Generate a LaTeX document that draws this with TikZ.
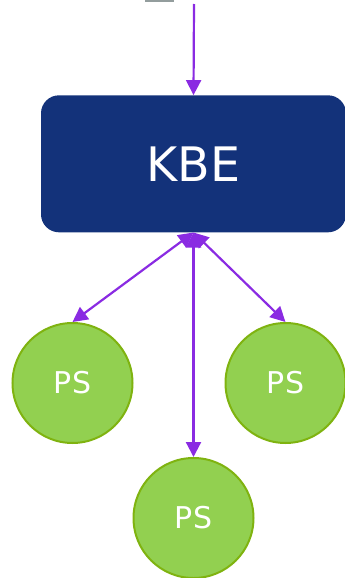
\documentclass[tikz,border=0pt]{standalone}
\usepackage{fontspec}
\setmainfont{DejaVu Sans}
\usetikzlibrary{arrows.meta}
\definecolor{kbeblue}{HTML}{13327A}
\definecolor{psgreen}{HTML}{92D050}
\definecolor{psborder}{HTML}{7FB310}
\definecolor{arrowpurple}{HTML}{8A2BE2}
\definecolor{topgrey}{HTML}{939D9D}
\tikzset{
  kbebox/.style={draw=none, fill=kbeblue, rounded corners=18pt, minimum width=305pt, minimum height=137pt, inner sep=0pt, text=white, font=\fontsize{47.5pt}{50pt}\selectfont},
  psnode/.style={circle, draw=psborder, line width=2pt, fill=psgreen, minimum size=120pt, inner sep=0pt, text=white, font=\fontsize{30pt}{34pt}\selectfont},
  conn/.style={draw=arrowpurple, line width=2.2pt, -{Triangle[length=15pt,width=15pt]}},
  biconn/.style={draw=arrowpurple, line width=2.2pt, {Triangle[length=15pt,width=15pt]}-{Triangle[length=15pt,width=15pt]}}
}
\begin{document}
\begin{tikzpicture}[x=1pt,y=-1pt]
\useasboundingbox (0,0) rectangle (345,578);
\clip (0,0) rectangle (345,578);
\fill[topgrey] (145,-6) rectangle (174,2);
\node[kbebox] (kbe) at (193.5,163.8) {KBE};
\node[psnode] (psl) at (72.5,383) {PS};
\node[psnode] (psr) at (285.5,383) {PS};
\node[psnode] (psb) at (193.5,518) {PS};
\coordinate (top) at (194,4);
\draw[conn] (top) -- (kbe.north);
\draw[biconn] (kbe.south) -- (psl.north);
\draw[biconn] (kbe.south) -- (psr.north);
\draw[biconn] (kbe.south) -- (psb.north);
\end{tikzpicture}
\end{document}
